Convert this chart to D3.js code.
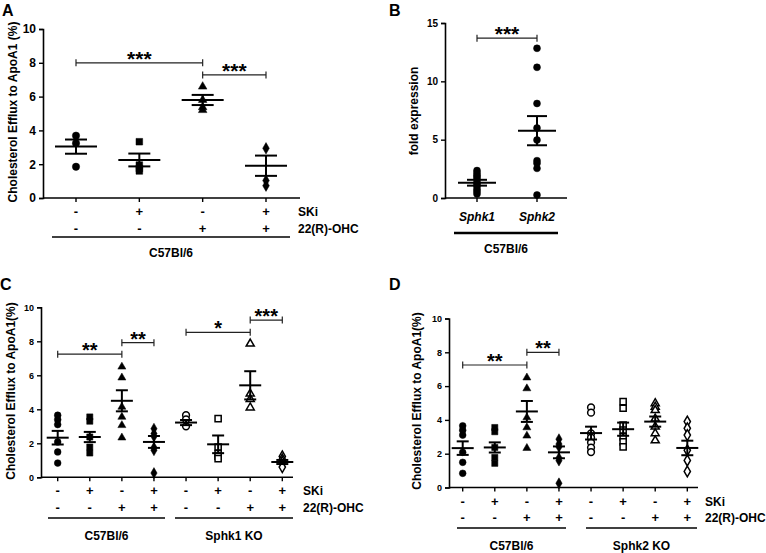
<!DOCTYPE html>
<html><head><meta charset="utf-8">
<script src="https://cdn.jsdelivr.net/npm/d3@7"></script>
<style>
body{margin:0;background:#fff}
text{font-family:"Liberation Sans",Arial,sans-serif;font-weight:bold;fill:#000}
</style></head><body>
<div id="chart"></div>
<script>
// ---- data ----
// panel A: C57Bl/6, 4 treatment groups
const aPoints = [[3.69, 3.24, 1.85], [3.33, 1.95, 1.75, 1.6], [6.59, 5.8, 5.37, 5.2], [2.94, 1.03, 0.73]];
const aMean = [3.04, 2.25, 5.8, 1.91];
const aSem = [0.42, 0.38, 0.3, 0.6];

// panel B: fold expression
const bCats = ["Sphk1", "Sphk2"];
const bPoints = [[2.35, 2.15, 1.95, 1.8, 1.6, 1.35, 1.2, 1.0, 0.75, 0.55, 0.35],
                 [12.83, 11.2, 8.1, 6.0, 4.97, 3.2, 2.97, 2.54, 0.26]];
const bMean = [1.31, 5.77];
const bSem = [0.25, 1.25];

// WT groups shared by C and D
const wtPoints = [[3.65, 3.39, 3.1, 2.08, 1.49, 0.84], [3.55, 3.3, 2.37, 1.78, 1.43],
                  [6.5, 5.86, 4.14, 3.55, 3.06, 2.33], [2.86, 2.57, 2.4, 1.75, 1.59, 0.25]];
const wtMean = [2.33, 2.37, 4.5, 2.08];
const wtSem = [0.4, 0.3, 0.62, 0.35];

// panel C: Sphk1 KO
const koCPoints = [[3.65, 3.4, 3.0], [3.45, 1.78, 1.4, 1.25, 1.1], [7.86, 4.92, 4.6, 4.1], [1.23, 1.05, 0.9, 0.6]];
const koCMean = [3.22, 1.94, 5.41, 0.9];
const koCSem = [0.15, 0.52, 0.83, 0.12];

// panel D: Sphk2 KO
const koDPoints = [[4.74, 4.43, 3.2, 2.95, 2.66, 2.36, 2.1], [5.08, 4.69, 3.7, 3.4, 3.0, 2.7, 2.4],
                   [4.98, 4.77, 4.57, 4.07, 3.6, 3.2, 2.78], [3.9, 3.5, 3.1, 2.2, 1.6, 0.95]];
const koDMean = [3.22, 3.45, 3.9, 2.34];
const koDSem = [0.38, 0.39, 0.3, 0.43];

const skiRow = ["-", "+", "-", "+"];
const ohcRow = ["-", "-", "+", "+"];
const shapes4 = ["circle", "square", "triangle", "diamond"];

const svg = d3.select("#chart").append("svg")
  .attr("width", 766).attr("height", 553)
  .style("background", "#fff");

const symTypes = {circle: d3.symbolCircle, square: d3.symbolSquare, triangle: d3.symbolTriangle, diamond: d3.symbolDiamond};

function drawPanel(o) {
  const g = svg.append("g");
  const y = d3.scaleLinear().domain([0, o.max]).range([o.yBot, o.yTop]);
  const x = d3.scalePoint().domain(d3.range(o.points.length)).range([o.x0, o.x1]);

  // y axis
  const yAxis = d3.axisLeft(y).tickValues(o.ticks).tickSize(4).tickPadding(3);
  const ya = g.append("g").attr("transform", `translate(${o.ox},0)`).call(yAxis);
  ya.select(".domain").attr("stroke-width", 1.6);
  ya.selectAll(".tick line").attr("stroke-width", 1.4);
  ya.selectAll("text").style("font-size", o.tickFont + "px");

  // x axis line with group ticks
  g.append("line").attr("x1", o.ox).attr("x2", o.xEnd).attr("y1", o.yBot).attr("y2", o.yBot)
    .attr("stroke", "#000").attr("stroke-width", 1.6);
  g.selectAll(".xt").data(d3.range(o.points.length)).enter().append("line")
    .attr("x1", d => x(d)).attr("x2", d => x(d))
    .attr("y1", o.yBot).attr("y2", o.yBot + 4)
    .attr("stroke", "#000").attr("stroke-width", 1.4);

  // points
  o.points.forEach((pts, i) => {
    const sym = d3.symbol().type(symTypes[o.shapes[i]]).size(o.symSize[o.shapes[i]]);
    g.selectAll(null).data(pts).enter().append("path")
      .attr("d", sym)
      .attr("transform", d => `translate(${x(i)},${y(d)})`)
      .attr("fill", o.open[i] ? "#fff" : "#000")
      .attr("stroke", "#000").attr("stroke-width", o.open[i] ? 1.5 : 0.5);
  });

  // mean +- SEM
  o.mean.forEach((m, i) => {
    const cx = x(i);
    const lw = 2;
    g.append("line").attr("x1", cx - o.meanHalf).attr("x2", cx + o.meanHalf)
      .attr("y1", y(m)).attr("y2", y(m)).attr("stroke", "#000").attr("stroke-width", lw);
    g.append("line").attr("x1", cx).attr("x2", cx)
      .attr("y1", y(m - o.sem[i])).attr("y2", y(m + o.sem[i])).attr("stroke", "#000").attr("stroke-width", lw);
    [m - o.sem[i], m + o.sem[i]].forEach(v => {
      g.append("line").attr("x1", cx - o.capHalf).attr("x2", cx + o.capHalf)
        .attr("y1", y(v)).attr("y2", y(v)).attr("stroke", "#000").attr("stroke-width", lw);
    });
  });

  // significance brackets
  o.brackets.forEach(b => {
    const by = y(b.v), xa = x(b.from), xb = x(b.to);
    g.append("line").attr("x1", xa).attr("x2", xb).attr("y1", by).attr("y2", by)
      .attr("stroke", "#222").attr("stroke-width", 1.2);
    [xa, xb].forEach(xx => g.append("line").attr("x1", xx).attr("x2", xx)
      .attr("y1", by - 3.5).attr("y2", by + 3.5).attr("stroke", "#222").attr("stroke-width", 1.2));
    g.append("text").attr("x", (xa + xb) / 2).attr("y", by + 3)
      .attr("text-anchor", "middle").style("font-size", o.starFont + "px").text(b.label);
  });

  // +/- rows
  if (o.rows) {
    o.rows.forEach((row, r) => {
      g.selectAll(null).data(row).enter().append("text")
        .attr("x", (d, i) => x(i)).attr("y", o.rowYs[r] + 4)
        .attr("text-anchor", "middle").style("font-size", "13px").text(d => d);
      g.append("text").attr("x", o.rowLabelX).attr("y", o.rowYs[r] + 4)
        .style("font-size", "12px").text(o.rowLabels[r]);
    });
  }
  // category labels (panel B)
  if (o.cats) {
    g.selectAll(null).data(o.cats).enter().append("text")
      .attr("x", (d, i) => x(i)).attr("y", o.catY)
      .attr("text-anchor", "middle").style("font-size", "12px").style("font-style", "italic").text(d => d);
  }

  // underlines and group labels
  o.underlines.forEach(u => {
    g.append("line").attr("x1", u.a).attr("x2", u.b).attr("y1", o.ulY).attr("y2", o.ulY)
      .attr("stroke", "#000").attr("stroke-width", o.ulW);
    g.append("text").attr("x", (u.a + u.b) / 2).attr("y", o.glY)
      .attr("text-anchor", "middle").style("font-size", "12px").text(u.label);
  });

  // y title
  g.append("text").attr("transform", `translate(${o.titleX},${o.titleY}) rotate(-90)`)
    .attr("text-anchor", "middle").style("font-size", o.titleFont + "px").text(o.title);

  // panel letter
  g.append("text").attr("x", o.lx).attr("y", o.ly).style("font-size", "16px").text(o.letter);
}

const symA = {circle: 42, square: 44, triangle: 32, diamond: 38};
const symC = {circle: 36, square: 38, triangle: 28, diamond: 34};

drawPanel({
  letter: "A", lx: 2, ly: 16,
  ox: 43, x0: 76, x1: 266, xEnd: 300, yTop: 29, yBot: 198, max: 10, ticks: [0, 2, 4, 6, 8, 10], tickFont: 12,
  points: aPoints, mean: aMean, sem: aSem, shapes: shapes4, open: [0, 0, 0, 0], symSize: symA,
  meanHalf: 21, capHalf: 11, starFont: 21,
  brackets: [{from: 0, to: 2, v: 8.0, label: "***"}, {from: 2, to: 3, v: 7.28, label: "***"}],
  rows: [skiRow, ohcRow], rowYs: [212, 229], rowLabelX: 298, rowLabels: ["SKi", "22(R)-OHC"],
  underlines: [{a: 52, b: 290, label: "C57Bl/6"}], ulY: 237, ulW: 1.6, glY: 257,
  title: "Cholesterol Efflux to ApoA1 (%)", titleX: 17, titleY: 112, titleFont: 12
});

drawPanel({
  letter: "B", lx: 389, ly: 16,
  ox: 445, x0: 477, x1: 537, xEnd: 567, yTop: 23, yBot: 198, max: 15, ticks: [0, 5, 10, 15], tickFont: 10,
  points: bPoints, mean: bMean, sem: bSem, shapes: ["circle", "circle"], open: [0, 0], symSize: {circle: 38},
  meanHalf: 19, capHalf: 10, starFont: 21,
  brackets: [{from: 0, to: 1, v: 13.7, label: "***"}],
  cats: bCats, catY: 221,
  underlines: [{a: 454, b: 558, label: "C57Bl/6"}], ulY: 233, ulW: 2.6, glY: 253,
  title: "fold expression", titleX: 418, titleY: 111, titleFont: 12
});

drawPanel({
  letter: "C", lx: 0, ly: 290,
  ox: 41, x0: 57.7, x1: 282.3, xEnd: 293, yTop: 307.3, yBot: 477.3, max: 10, ticks: [0, 2, 4, 6, 8, 10], tickFont: 9,
  points: wtPoints.concat(koCPoints), mean: wtMean.concat(koCMean), sem: wtSem.concat(koCSem),
  shapes: shapes4.concat(shapes4), open: [0, 0, 0, 0, 1, 1, 1, 1], symSize: symC,
  meanHalf: 11, capHalf: 6, starFont: 20,
  brackets: [{from: 0, to: 2, v: 7.24, label: "**"}, {from: 2, to: 3, v: 7.92, label: "**"},
             {from: 4, to: 6, v: 8.53, label: "*"}, {from: 6, to: 7, v: 9.25, label: "***"}],
  rows: [skiRow.concat(skiRow), ohcRow.concat(ohcRow)], rowYs: [491, 508], rowLabelX: 303, rowLabels: ["SKi", "22(R)-OHC"],
  underlines: [{a: 48, b: 165, label: "C57Bl/6"}, {a: 175, b: 293, label: "Sphk1 KO"}], ulY: 518, ulW: 1.6, glY: 540,
  title: "Cholesterol Efflux to ApoA1(%)", titleX: 15, titleY: 391, titleFont: 12
});

drawPanel({
  letter: "D", lx: 389, ly: 290,
  ox: 449, x0: 462.7, x1: 687.3, xEnd: 698, yTop: 318.5, yBot: 487.5, max: 10, ticks: [0, 2, 4, 6, 8, 10], tickFont: 9,
  points: wtPoints.concat(koDPoints), mean: wtMean.concat(koDMean), sem: wtSem.concat(koDSem),
  shapes: shapes4.concat(shapes4), open: [0, 0, 0, 0, 1, 1, 1, 1], symSize: symC,
  meanHalf: 11, capHalf: 6, starFont: 20,
  brackets: [{from: 0, to: 2, v: 7.25, label: "**"}, {from: 2, to: 3, v: 8.0, label: "**"}],
  rows: [skiRow.concat(skiRow), ohcRow.concat(ohcRow)], rowYs: [502, 518], rowLabelX: 705, rowLabels: ["SKi", "22(R)-OHC"],
  underlines: [{a: 457, b: 566, label: "C57Bl/6"}, {a: 586, b: 697, label: "Sphk2 KO"}], ulY: 528, ulW: 1.6, glY: 550,
  title: "Cholesterol Efflux to ApoA1(%)", titleX: 421, titleY: 401, titleFont: 12
});
</script>
</body></html>
